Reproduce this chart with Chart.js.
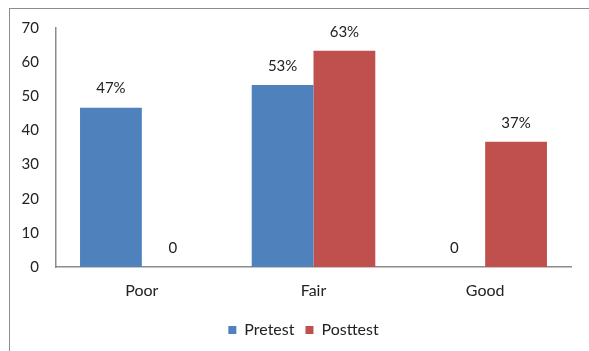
<!DOCTYPE html>
<html>
<head>
<meta charset="utf-8">
<script src="https://cdn.jsdelivr.net/npm/chart.js@4"></script>
<style>
html,body{margin:0;padding:0;background:#fff;}
#wrap{position:relative;width:589px;height:351px;overflow:hidden;}
#frame{position:absolute;left:9px;top:8px;width:600px;height:400px;border-left:1px solid #8c8c8c;border-top:1px solid #8c8c8c;}
canvas{position:absolute;left:0;top:0;}
</style>
</head>
<body>
<div id="wrap">
<div id="frame"></div>
<canvas id="c" width="589" height="351"></canvas>
</div>
<script>
const categories = ["Poor", "Fair", "Good"];
const pretestValues = [46.67, 53.33, 0];
const posttestValues = [0, 63.33, 36.67];
const pretestLabels = ["47%", "53%", "0"];
const posttestLabels = ["0", "63%", "37%"];
const yTicks = [0, 10, 20, 30, 40, 50, 60, 70];

const FONT = "Lato, 'Liberation Sans', sans-serif";

const valueLabels = {
  id: 'valueLabels',
  afterDatasetsDraw(chart) {
    const ctx = chart.ctx;
    ctx.save();
    ctx.font = "15px " + FONT;
    ctx.fillStyle = "#222";
    ctx.textAlign = "center";
    ctx.textBaseline = "middle";
    chart.data.datasets.forEach((ds, i) => {
      const meta = chart.getDatasetMeta(i);
      meta.data.forEach((bar, j) => {
        const txt = ds.valueText[j];
        ctx.fillText(txt, bar.x, bar.y - 19);
      });
    });
    ctx.restore();
  }
};

const legendShift = {
  id: 'legendShift',
  afterLayout(chart) {
    if (chart.legend) {
      chart.legend.left += 18;
      chart.legend.right += 18;
    }
  }
};

new Chart(document.getElementById('c'), {
  type: 'bar',
  data: {
    labels: categories,
    datasets: [
      { label: 'Pretest', data: pretestValues, valueText: pretestLabels, backgroundColor: '#4F81BD', borderWidth: 0 },
      { label: 'Posttest', data: posttestValues, valueText: posttestLabels, backgroundColor: '#C0504D', borderWidth: 0 }
    ]
  },
  options: {
    responsive: false,
    animation: false,
    layout: { padding: { left: 0, right: 18, top: 28, bottom: 3 } },
    datasets: { bar: { categoryPercentage: 0.72, barPercentage: 1.0 } },
    plugins: {
      legend: {
        position: 'bottom',
        labels: {
          font: { family: FONT, size: 16 },
          color: '#222',
          boxWidth: 8,
          boxHeight: 8,
          padding: 11
        }
      },
      tooltip: { enabled: false }
    },
    scales: {
      x: {
        grid: { display: false, drawTicks: false },
        border: { display: true, color: '#8c8c8c', width: 1.5 },
        ticks: { font: { family: FONT, size: 16 }, color: '#222', padding: 14 },
        afterFit(scale) { scale.height = 44; }
      },
      y: {
        min: 0, max: 70,
        afterBuildTicks(scale) { scale.ticks = yTicks.map(v => ({ value: v })); },
        grid: { display: false, drawTicks: false },
        border: { display: true, color: '#8c8c8c', width: 1.5 },
        ticks: { font: { family: FONT, size: 15 }, color: '#222', padding: 17 },
        afterFit(scale) { scale.width = 56; }
      }
    }
  },
  plugins: [valueLabels, legendShift]
});
</script>
</body>
</html>
